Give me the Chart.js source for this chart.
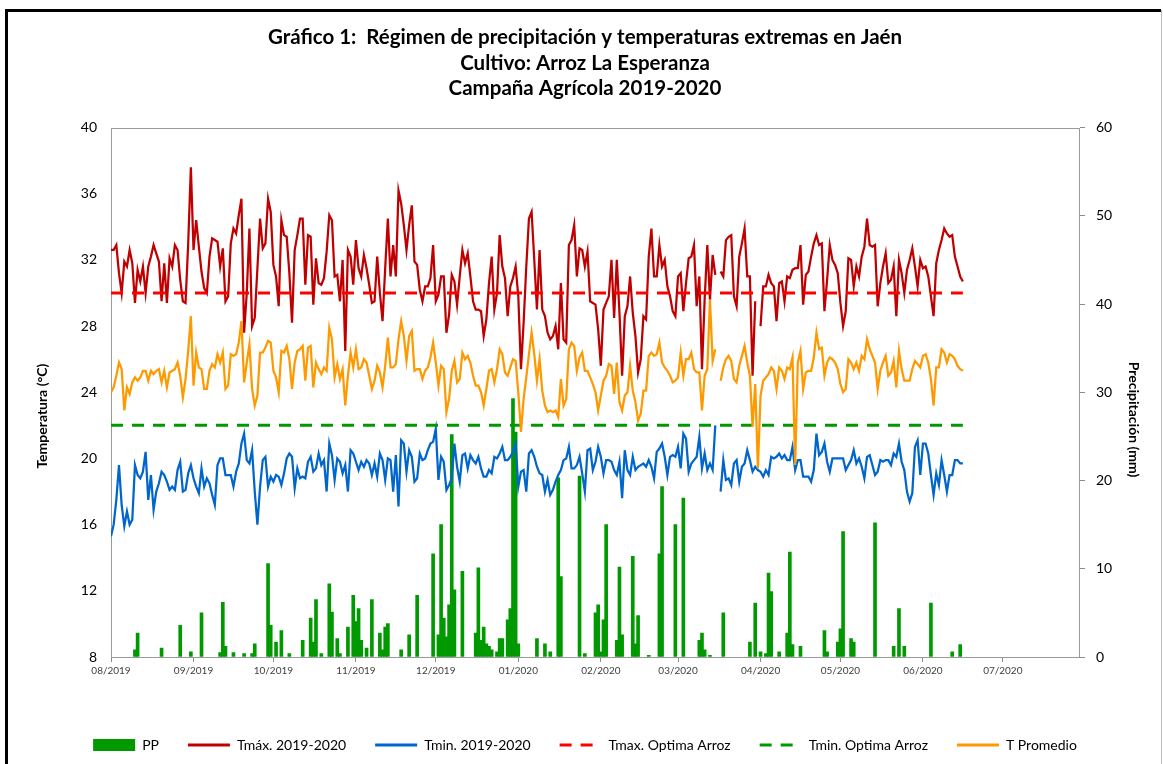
<!DOCTYPE html>
<html>
<head>
<meta charset="utf-8">
<script src="https://cdn.jsdelivr.net/npm/chart.js@4.4.1/dist/chart.umd.min.js"></script>
<style>
    html, body { margin: 0; padding: 0; background: #fff; }
</style>
</head>
<body>
<canvas id="climaChart" width="1163" height="764"></canvas>
<script>
// day 0 = 01/08/2019, one value per day
const tmax = [
    32.6, 32.6, 32.9, 31.2, 30.0, 31.9, 31.6, 32.6, 31.8, 29.4,
    31.4, 30.7, 31.6, 30.0, 31.6, 32.2, 32.9, 32.4, 31.9, 29.5,
    31.8, 29.4, 32.1, 31.6, 32.9, 32.6, 30.8, 29.5, 29.4, 33.0,
    37.6, 32.6, 34.4, 32.8, 31.3, 30.3, 30.0, 32.2, 33.3, 33.2,
    33.1, 31.6, 32.7, 29.5, 29.8, 33.0, 33.9, 33.6, 34.7, 35.7,
    27.6, 30.0, 33.9, 28.0, 28.5, 31.5, 34.5, 32.7, 33.0, 35.7,
    34.9, 31.7, 31.0, 29.2, 34.4, 33.5, 33.4, 31.2, 28.2, 32.6,
    33.5, 34.5, 34.5, 30.5, 33.5, 33.4, 29.3, 32.1, 30.6, 30.5,
    30.9, 32.5, 34.7, 34.4, 31.0, 31.1, 29.5, 32.0, 26.5, 32.6,
    32.2, 30.5, 33.2, 31.5, 31.0, 32.3, 31.5, 30.5, 29.4, 29.5,
    32.2, 30.0, 28.3, 31.5, 34.5, 31.0, 32.9, 31.0, 36.2, 35.4,
    34.1, 32.6, 34.1, 35.3, 31.9, 31.7, 30.2, 29.5, 30.4, 30.4,
    30.9, 32.9, 29.5, 29.9, 31.0, 31.0, 27.6, 28.7, 31.1, 30.7,
    29.3, 31.0, 32.6, 31.8, 32.4, 31.0, 29.5, 29.0, 29.0, 28.9,
    27.4, 28.4, 30.6, 32.2, 29.0, 30.0, 33.5, 31.6, 30.9, 28.6,
    30.4, 30.9, 31.6, 29.8, 25.4, 28.2, 31.6, 34.5, 34.9, 32.0,
    29.0, 32.6, 29.0, 28.6, 27.6, 27.2, 27.4, 28.0, 26.6, 30.6,
    27.2, 27.0, 32.9, 33.2, 34.1, 31.0, 32.7, 32.6, 31.6, 32.5,
    29.5, 29.4, 29.3, 27.8, 25.6, 29.0, 29.4, 29.8, 32.0, 28.5,
    32.0, 28.8, 25.0, 28.6, 29.2, 31.0, 28.8, 27.4, 25.2, 26.0,
    28.6, 28.4, 32.2, 33.9, 31.0, 31.0, 32.9, 31.6, 32.0, 30.4,
    29.8, 28.9, 28.6, 31.0, 31.2, 28.9, 30.6, 32.1, 32.2, 32.9,
    29.2, 31.0, 25.4, 29.6, 32.9, 29.6, 32.3, 31.1, null, 31.3,
    31.0, 33.2, 33.4, 33.5, 29.8, 29.2, 32.2, 33.0, 33.9, 31.0,
    31.0, 25.0, 29.5, null, 28.0, 30.4, 30.4, 31.1, 30.6, 30.4,
    28.3, 30.6, 30.7, 29.5, 31.0, 30.9, 31.4, 31.5, 31.5, 32.9,
    29.3, 31.1, 31.3, 32.2, 33.0, 33.5, 32.9, 33.0, 28.9, 30.8,
    32.9, 32.0, 31.7, 31.2, 29.4, 28.0, 28.9, 32.1, 32.0, 30.4,
    31.6, 31.0, 32.2, 32.8, 34.5, 32.9, 32.8, 32.9, 29.2, 30.6,
    31.6, 32.4, 30.6, 30.8, 31.6, 28.6, 32.0, 31.2, 30.0, 31.4,
    32.0, 32.7, 31.6, 30.4, 32.0, 31.5, 31.6, 31.0, 29.8, 28.6,
    31.8, 32.6, 33.2, 33.9, 33.6, 33.4, 33.5, 32.2, 31.6, 31.0,
    30.7
];

const tmin = [
    15.3, 16.0, 17.5, 19.6, 17.2, 15.9, 16.8, 16.0, 16.3, 19.6,
    19.0, 18.8, 19.2, 20.4, 17.5, 19.0, 16.9, 18.0, 18.5, 19.2,
    19.0, 18.6, 18.1, 18.3, 18.1, 19.3, 19.8, 18.0, 18.1, 19.1,
    19.6, 18.8, 18.3, 17.9, 19.4, 18.3, 18.8, 18.5, 17.8, 17.2,
    19.6, 20.0, 20.0, 19.0, 19.0, 19.0, 18.3, 19.2, 19.7, 20.9,
    21.5, 19.9, 19.7, 20.5, 18.0, 16.0, 18.3, 19.9, 20.1, 18.3,
    18.9, 18.6, 19.0, 18.9, 18.4, 19.1, 20.0, 20.3, 20.1, 18.2,
    19.4, 18.8, 18.9, 18.8, 19.8, 20.1, 19.2, 19.4, 20.3, 19.6,
    19.9, 18.0, 20.9, 20.2, 18.7, 20.0, 19.8, 19.1, 19.6, 18.0,
    20.5, 20.3, 19.8, 19.3, 19.8, 19.5, 19.9, 19.7, 19.0, 19.7,
    18.9, 20.3, 19.9, 18.7, 20.0, 19.9, 18.0, 20.2, 17.1, 21.1,
    20.9, 19.2, 20.5, 20.1, 18.6, 18.8, 20.3, 19.9, 20.0, 20.5,
    20.9, 21.0, 21.8, 18.7, 20.1, 19.8, 18.1, 18.4, 18.8, 20.9,
    19.5, 18.6, 20.2, 20.3, 19.4, 20.2, 19.9, 19.7, 20.1, 19.4,
    18.9, 18.9, 19.3, 19.1, 20.1, 20.0, 20.3, 20.7, 19.9, 19.9,
    20.1, 20.4, 20.9, 18.3, 19.2, 19.3, 18.0, 20.3, 20.5, 20.1,
    19.5, 19.1, 19.0, 18.0, 18.7, 17.8, 18.1, 18.6, 19.0, 19.3,
    19.9, 20.0, 20.7, 19.4, 19.4, 19.6, 20.1, 19.1, 18.0, 20.5,
    20.6, 19.3, 19.8, 20.7, 20.1, 19.1, 19.9, 19.9, 19.8, 19.3,
    19.0, 19.8, 17.6, 20.5, 19.3, 19.0, 20.1, 19.3, 19.5, 19.6,
    19.7, 19.5, 19.9, 19.5, 18.8, 20.4, 20.6, 20.9, 20.1, 19.0,
    20.1, 20.2, 20.1, 20.7, 19.4, 21.5, 21.2, 19.2, 19.7, 19.9,
    20.1, 21.3, 19.4, 20.3, 19.3, 19.7, 19.3, 22.0, null, 18.0,
    19.9, 18.7, 18.8, 18.4, 19.7, 19.9, 18.6, 19.5, 19.7, 20.5,
    19.9, 19.2, 19.5, 19.3, 19.2, 18.9, 19.3, 19.0, 20.1, 20.0,
    20.1, 20.3, 20.0, 20.2, 19.9, 19.9, 20.7, 19.3, 19.9, 19.9,
    18.9, 18.9, 18.9, 18.6, 19.3, 21.5, 20.2, 20.4, 20.9, 19.8,
    19.2, 20.0, 20.0, 20.0, 20.0, 20.0, 19.3, 19.6, 19.9, 20.5,
    19.7, 20.0, 19.5, 18.8, 20.1, 20.2, 19.6, 19.0, 19.2, 19.9,
    19.8, 19.9, 19.9, 19.6, 20.3, 20.1, 20.9, 19.8, 19.3, 18.0,
    17.4, 17.9, 20.7, 21.1, 19.0, 20.9, 20.9, 20.3, 19.0, 17.8,
    19.1, 18.4, 19.9, 19.0, 18.0, 19.0, 19.0, 19.9, 19.9, 19.7,
    19.7
];

const tprom = [
    24.0, 24.3, 25.0, 25.8, 25.4, 22.9, 24.3, 23.9, 24.6, 24.9,
    24.7, 24.9, 25.3, 25.3, 24.7, 25.3, 25.1, 25.3, 25.4, 24.6,
    25.3, 24.3, 25.2, 25.3, 25.4, 25.8, 25.0, 23.7, 24.8, 26.5,
    28.6, 24.4, 26.4, 25.5, 25.4, 24.2, 24.2, 25.3, 25.7, 25.5,
    26.3, 25.8, 26.4, 24.2, 24.4, 26.3, 26.2, 26.3, 27.0, 28.3,
    24.6, 25.8, 26.9, 24.2, 23.2, 23.8, 26.4, 26.4, 26.7, 27.1,
    27.0, 25.3, 24.9, 24.0, 26.5, 26.4, 26.8, 26.0, 24.2, 25.8,
    26.5, 26.6, 26.8, 24.7, 26.7, 26.8, 24.3, 25.8, 25.4, 25.1,
    25.5, 25.3, 27.9, 27.2, 24.9, 25.7, 24.8, 25.4, 23.2, 25.0,
    26.4, 25.5, 26.6, 25.4, 25.5, 26.0, 25.8, 25.0, 24.2, 24.7,
    25.6, 25.2, 24.3, 25.6, 27.3, 25.5, 25.5, 25.7, 27.2, 28.3,
    27.4, 25.9, 27.4, 27.7, 25.3, 25.4, 25.4, 24.8, 25.3, 25.5,
    26.1, 27.0, 25.8, 24.4, 25.6, 25.4, 22.8, 23.6, 25.3, 25.9,
    24.6, 24.8, 26.4, 26.0, 26.2, 25.8, 25.0, 24.4, 24.4, 24.0,
    23.2, 24.2, 25.3, 25.4, 24.6, 25.4, 26.6, 26.3, 25.2, 25.0,
    25.5, 26.0, 25.9, 24.0, 21.6, 23.6, 24.9, 26.3, 27.6, 26.3,
    24.7, 26.0, 24.1, 23.2, 22.8, 22.9, 22.8, 22.9, 22.5, 24.8,
    23.2, 23.6, 26.6, 27.0, 26.8, 25.3, 26.1, 26.4, 25.3, 25.3,
    24.9, 24.5, 24.0, 22.9, 23.8, 24.7, 25.0, 25.7, 25.6, 23.9,
    25.8, 23.4, 22.9, 23.8, 24.0, 25.6, 24.1, 23.4, 22.3, 22.7,
    24.1, 24.1, 26.2, 26.4, 26.2, 26.3, 27.0, 25.8, 25.5, 25.3,
    25.0, 24.6, 24.7, 24.9, 26.4, 25.0, 26.0, 26.0, 26.4, 25.4,
    25.2, 25.2, 22.9, 25.0, 25.4, 29.6, 25.9, 26.6, null, 24.7,
    25.5, 26.0, 26.2, 25.9, 24.8, 24.6, 25.6, 26.2, 26.8, 25.8,
    25.0, 21.9, 24.5, 19.4, 23.8, 24.7, 24.9, 25.1, 25.5, 25.3,
    24.2, 25.5, 25.3, 24.8, 25.5, 25.4, 26.1, 19.6, 25.8, 26.5,
    24.2, 25.2, 25.3, 25.3, 26.1, 27.6, 26.6, 26.7, 25.0, 25.8,
    26.1, 26.0, 25.8, 25.4, 24.5, 24.0, 24.2, 26.0, 25.8, 25.4,
    25.8, 25.3, 26.2, 26.0, 27.2, 26.6, 26.2, 25.8, 24.2, 25.3,
    25.8, 26.2, 25.0, 25.2, 25.9, 24.3, 26.5, 25.4, 24.7, 24.7,
    24.7, 25.4, 25.9, 25.7, 25.5, 26.2, 26.3, 25.8, 24.8, 23.2,
    25.5, 25.5, 26.6, 26.4, 25.8, 26.3, 26.2, 26.0, 25.6, 25.4,
    25.3
];

// rainy days only (day index, mm)
const ppDays = [
    9, 10, 19, 26, 30, 34, 41, 42, 43, 46, 50, 53, 54, 59, 60, 62, 64, 67, 72, 75,
    76, 77, 79, 82, 83, 85, 86, 89, 91, 92, 93, 94, 96, 98, 101, 102, 103, 104, 109, 112,
    115, 121, 123, 124, 125, 126, 127, 128, 129, 132, 137, 138, 139, 140, 141, 142, 143, 145, 146, 147,
    149, 150, 151, 152, 153, 160, 163, 165, 168, 169, 176, 178, 182, 183, 184, 185, 186, 190, 191, 192,
    196, 197, 198, 202, 206, 207, 212, 215, 221, 222, 223, 225, 230, 240, 242, 244, 246, 247, 248, 251,
    254, 255, 256, 259, 268, 269, 273, 274, 275, 278, 279, 287, 294, 296, 298, 308, 316, 319
];
const ppValues = [
    0.8, 2.7, 1.0, 3.6, 0.6, 5.0, 0.5, 6.2, 1.2, 0.5, 0.4, 0.4, 1.5, 10.6, 3.6, 1.7, 3.0, 0.4, 1.9, 4.4,
    1.7, 6.5, 0.4, 8.3, 5.1, 2.1, 0.4, 3.4, 7.0, 4.0, 5.5, 1.9, 1.0, 6.5, 2.7, 0.8, 3.4, 3.8, 0.8, 2.5,
    7.0, 11.7, 2.5, 15.0, 4.4, 2.3, 5.9, 25.2, 7.6, 9.7, 2.7, 10.1, 1.9, 3.4, 1.5, 1.2, 0.8, 0.6, 2.1, 2.1,
    4.2, 5.5, 29.3, 25.5, 1.5, 2.1, 1.5, 0.6, 20.3, 9.1, 20.5, 0.4, 5.0, 5.9, 0.6, 4.2, 15.0, 1.9, 10.2, 2.5,
    11.4, 1.5, 4.7, 0.2, 11.7, 19.3, 15.0, 18.0, 1.9, 2.7, 0.8, 0.2, 5.0, 1.7, 6.1, 0.6, 0.4, 9.5, 7.4, 0.6,
    2.7, 11.9, 1.4, 1.2, 3.0, 0.6, 1.7, 3.2, 14.2, 2.1, 1.7, 15.2, 1.2, 5.5, 1.2, 6.1, 0.6, 1.4
];

const tmaxOptima = 30;
const tminOptima = 22;

const monthStarts = [0, 31, 61, 92, 122, 153, 184, 213, 244, 274, 305, 335];
const monthLabels = ['08/2019', '09/2019', '10/2019', '11/2019', '12/2019', '01/2020',
    '02/2020', '03/2020', '04/2020', '05/2020', '06/2020', '07/2020'];

document.addEventListener('DOMContentLoaded', function() {
    Chart.defaults.font.family = 'Lato, "Open Sans", sans-serif';
    Chart.defaults.color = '#000';

    const lastDay = tmax.length - 1;
    const toPoints = arr => arr.map((v, i) => ({ x: i, y: v }));
    const flatLine = v => [{ x: 0, y: v }, { x: lastDay, y: v }];
    // the axis titles sit a bit below the middle of the plot in the original
    const padLeft = ' '.repeat(14);
    const padRight = ' '.repeat(16);

    // white page + outer frame, and a thin box round the plot
    const framePlugin = {
        id: 'frame',
        beforeDraw(chart) {
            const ctx = chart.ctx;
            ctx.save();
            ctx.fillStyle = '#fff';
            ctx.fillRect(0, 0, chart.width, chart.height);
            ctx.strokeStyle = '#000';
            ctx.lineWidth = 3;
            ctx.beginPath();
            ctx.moveTo(6.5, chart.height);
            ctx.lineTo(6.5, 10.5);
            ctx.lineTo(1161, 10.5);
            ctx.stroke();
            ctx.strokeStyle = '#bfbfbf';
            ctx.lineWidth = 1;
            ctx.beginPath();
            ctx.moveTo(1161.5, 10);
            ctx.lineTo(1161.5, chart.height);
            ctx.stroke();
            ctx.restore();
        },
        beforeDatasetsDraw(chart) {
            const { ctx, chartArea: a } = chart;
            ctx.save();
            ctx.strokeStyle = '#9a9a9a';
            ctx.lineWidth = 1;
            ctx.strokeRect(Math.round(a.left) + 0.5, Math.round(a.top) + 0.5,
                Math.round(a.width) - 1, Math.round(a.height));
            ctx.restore();
        }
    };

    const lineStyle = {
        type: 'line',
        yAxisID: 'y',
        pointRadius: 0,
        pointHoverRadius: 0,
        borderWidth: 2.25,
        tension: 0,
        fill: false,
        spanGaps: false
    };

    const ctx = document.getElementById('climaChart').getContext('2d');
    const chartConfig = {
        type: 'line',
        data: {
            datasets: [
                {
                    type: 'bar',
                    label: 'PP',
                    data: ppDays.map((d, i) => ({ x: d, y: ppValues[i] })),
                    yAxisID: 'y1',
                    backgroundColor: '#009900',
                    borderWidth: 0,
                    barThickness: 3,
                    order: 6
                },
                Object.assign({}, lineStyle, {
                    label: 'Tmáx. 2019-2020',
                    data: toPoints(tmax),
                    borderColor: '#c00000',
                    backgroundColor: '#c00000',
                    order: 5
                }),
                Object.assign({}, lineStyle, {
                    label: 'Tmin. 2019-2020',
                    data: toPoints(tmin),
                    borderColor: '#0066cc',
                    backgroundColor: '#0066cc',
                    order: 4
                }),
                Object.assign({}, lineStyle, {
                    label: 'Tmax. Optima Arroz',
                    data: flatLine(tmaxOptima),
                    borderColor: '#ff0000',
                    backgroundColor: '#ff0000',
                    borderWidth: 3,
                    borderDash: [12, 9],
                    order: 3
                }),
                Object.assign({}, lineStyle, {
                    label: 'Tmin. Optima Arroz',
                    data: flatLine(tminOptima),
                    borderColor: '#009900',
                    backgroundColor: '#009900',
                    borderWidth: 3,
                    borderDash: [12, 9],
                    order: 2
                }),
                Object.assign({}, lineStyle, {
                    label: 'T Promedio',
                    data: toPoints(tprom),
                    borderColor: '#ff9900',
                    backgroundColor: '#ff9900',
                    order: 1
                })
            ]
        },
        options: {
            responsive: false,
            animation: false,
            events: [],
            layout: {
                padding: { left: 20, right: 13, top: 0, bottom: 2 }
            },
            plugins: {
                title: {
                    display: true,
                    text: [
                        'Gráfico 1:  Régimen de precipitación y temperaturas extremas en Jaén',
                        'Cultivo: Arroz La Esperanza',
                        'Campaña Agrícola 2019-2020'
                    ],
                    color: '#000',
                    font: { size: 20.5, weight: 'bold', lineHeight: 1.245 },
                    padding: { top: 25, bottom: 26 }
                },
                legend: {
                    position: 'bottom',
                    labels: {
                        usePointStyle: true,
                        pointStyleWidth: 42,
                        boxHeight: 12,
                        padding: 29,
                        color: '#000',
                        font: { size: 14 },
                        sort: (a, b) => a.datasetIndex - b.datasetIndex,
                        generateLabels: function(chart) {
                            const items = Chart.defaults.plugins.legend.labels.generateLabels(chart);
                            items.forEach(item => {
                                const ds = chart.data.datasets[item.datasetIndex];
                                item.pointStyle = ds.type === 'bar' ? 'rect' : 'line';
                                item.lineDash = ds.borderDash || [];
                                item.lineWidth = ds.type === 'bar' ? 0 : 3;
                                item.strokeStyle = ds.borderColor || ds.backgroundColor;
                                item.fillStyle = ds.backgroundColor;
                            });
                            return items;
                        }
                    }
                },
                tooltip: { enabled: false }
            },
            scales: {
                x: {
                    type: 'linear',
                    min: 0,
                    max: 364,
                    offset: false,
                    grid: {
                        display: true,
                        drawOnChartArea: false,
                        drawTicks: true,
                        tickLength: 5,
                        color: '#8c8c8c',
                        offset: false
                    },
                    border: { display: false },
                    ticks: {
                        autoSkip: false,
                        maxRotation: 0,
                        minRotation: 0,
                        padding: 3,
                        color: '#404040',
                        font: { size: 10 },
                        callback: (value, index) => monthLabels[index]
                    },
                    afterBuildTicks: scale => {
                        scale.ticks = monthStarts.map(v => ({ value: v }));
                    },
                    afterFit: scale => {
                        scale.height = 52;
                    }
                },
                y: {
                    position: 'left',
                    min: 8,
                    max: 40,
                    grid: { display: false, drawTicks: false },
                    border: { display: false },
                    ticks: {
                        stepSize: 4,
                        padding: 14,
                        color: '#000',
                        font: { size: 14 }
                    },
                    title: {
                        display: true,
                        text: 'Temperatura (°C)' + padLeft,
                        color: '#000',
                        font: { size: 14, weight: 'bold' },
                        padding: { top: 14, bottom: 0 }
                    },
                    afterFit: scale => {
                        scale.width = 91;
                    }
                },
                y1: {
                    position: 'right',
                    min: 0,
                    max: 60,
                    grid: {
                        display: true,
                        drawOnChartArea: false,
                        drawTicks: true,
                        tickLength: 5,
                        color: '#8c8c8c'
                    },
                    border: { display: false },
                    ticks: {
                        stepSize: 10,
                        padding: 11,
                        color: '#000',
                        font: { size: 14 }
                    },
                    title: {
                        display: true,
                        text: padRight + 'Precipitación (mm)',
                        color: '#000',
                        font: { size: 14, weight: 'bold' },
                        padding: { top: 8, bottom: 0 }
                    },
                    afterFit: scale => {
                        scale.width = 70;
                    }
                }
            }
        },
        plugins: [framePlugin]
    };

    new Chart(ctx, chartConfig);
});
</script>
</body>
</html>
